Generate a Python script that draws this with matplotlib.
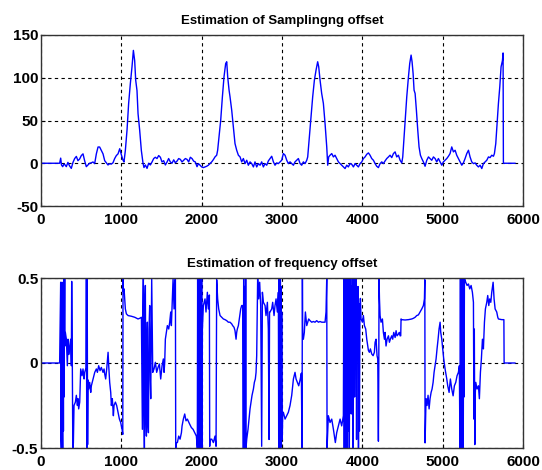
import matplotlib
matplotlib.use("Agg")
import matplotlib.pyplot as plt

plt.rcParams['font.family'] = ['Liberation Sans', 'DejaVu Sans']
plt.rcParams['axes.unicode_minus'] = False

# ---- Top: Estimation of sampling offset ----
samp_x = [0, 232, 245, 255, 270, 285, 300, 315, 335, 355, 377, 398, 419, 440, 460, 481, 502, 523, 543, 564,
          585, 605, 626, 647, 668, 689, 710, 730, 751, 772, 793, 813, 834, 855, 875, 896, 917, 938, 959, 980,
          1000, 1021, 1033, 1050, 1071, 1091, 1112, 1133, 1150, 1166, 1179, 1195, 1208, 1228, 1249, 1270, 1282,
          1299, 1320, 1340, 1361, 1382, 1403, 1423, 1444, 1465, 1486, 1506, 1527, 1548, 1569, 1589, 1610, 1631,
          1652, 1672, 1693, 1714, 1735, 1755, 1776, 1797, 1818, 1838, 1859, 1880, 1900, 1921, 1942,
          1959, 1980, 2000, 2021, 2042, 2063, 2083, 2104, 2125, 2146, 2166, 2187, 2199, 2216, 2237, 2258, 2278,
          2299, 2312, 2324, 2341, 2353, 2374, 2395, 2415, 2436, 2457, 2478, 2498, 2519, 2540, 2561, 2581, 2602,
          2623, 2644, 2664, 2685, 2706, 2727, 2747, 2768, 2789, 2810, 2830, 2851, 2872, 2893, 2913, 2934, 2955,
          2976, 2996, 3017, 3038, 3059, 3079, 3100, 3121, 3142, 3162, 3183, 3204, 3225, 3245, 3266, 3287, 3308,
          3320, 3341, 3361, 3382, 3403, 3424, 3444, 3457, 3474, 3494, 3515, 3536, 3557, 3569, 3581, 3598, 3619,
          3640, 3660, 3681, 3702, 3723, 3743, 3764, 3785, 3806, 3826, 3847,
          3868, 3889, 3910, 3930, 3951, 3972, 3993, 4013, 4034, 4055, 4076, 4096, 4117, 4138, 4159, 4179, 4200,
          4221, 4242, 4262, 4283, 4304, 4325, 4345, 4366, 4387, 4408, 4428, 4449, 4470, 4491, 4503, 4520, 4536,
          4553, 4574, 4590, 4607, 4619, 4632, 4644, 4657, 4673, 4690, 4706, 4723, 4740, 4760, 4781, 4802, 4823,
          4843, 4864, 4885, 4906, 4926, 4947, 4968, 4989, 5009, 5030, 5051, 5072, 5092, 5113, 5134, 5155, 5175,
          5196, 5217, 5238, 5258, 5279, 5300, 5321, 5341, 5362, 5383, 5404, 5424, 5445, 5466, 5487, 5507, 5528,
          5549, 5570, 5590, 5611, 5632, 5644, 5661, 5677, 5694, 5711, 5727, 5744, 5752, 5756, 5900]
samp_y = [0, 0, 6, -2, -4, -1, -2, -4, 1, -3, -6, 1, 5.5, 8, 3, 5, 9, 11, 3, -4,
          -2, 0, 0.5, 1.5, -0.5, 11, 19, 19, 15, 11, 3, 0.5, -2, -0.5, -1, 0.5, 5.5, 9, 11, 17,
          10, 3.5, 1.5, 15, 39, 70, 93, 113, 132, 120, 97, 85, 58, 39, 15, 0, -5,
          -2, -6, 0, -2, 1.5, 5.5, 7, 5.5, 9, 7, 1.5, 3, -2, 1.5, 5.5, 1.5, 0,
          4, 0.5, 2.5, 5.5, 4.5, 1.5, 3.5, 5.5, 4.5, 1.5, 7, 5.5, 2.5, 1.5, -4,
          -0.4, -2.3, -4.3, -5.1, -4.3, -3.5, -2.3, -0.4, 1.6, 4.3, 7.4, 9.4, 15.2, 30.8, 50.4, 77.7, 101,
          116.7, 118.7, 101, 85.5, 77.7, 62, 42.5, 23, 15.2, 9.4, 7.4, 1.6, 5.5, -0.4, 3.5, -2.3, 1.6,
          -0.4, -4.3, 1.6, -4.3, -0.4, -2.3, 1.6, -4.3, -0.4, -2.3, 2.7, 5.5, 8.2, 1.6, -2.3, 0.4, -0.4,
          1.6, 3.5, 11.3, 9.4, 3.5, -0.4, 1.6, -0.4, -2.3, 1.6, 3.5, 5.5, -0.4, -2.3, 1.6, -0.4, 3.5,
          7.4, 30.8, 54.3, 77.7, 97, 109, 118.7, 112.8, 97, 81.6, 70, 46.4, 19.1, -2.3, 7.4, 9.4, 11.3,
          7.4, 9.4, 5.5, 1.6, -0.4, -2.3, -4.3, -6.2, -2.3, -4.3, -0.4,
          -1.2, -4.3, -0.4, -2.3, -4.3, -0.4, 1.6, 5.5, 7.4, 10.5, 12.1, 9.4, 5.5, 3.5, -0.4, -3.5, -5.1,
          -0.4, 1.6, -0.4, 2.7, 5.5, 7.4, 9.4, 6.6, 11.3, 13.3, 7.4, 9.4, 3.5, 0.4, 7.4, 30.8, 54.3,
          77.7, 101, 116.7, 126.5, 118.7, 105, 85.5, 81.6, 62, 38.6, 19.1, 9.4, 5.5, 1.6, -3.5, 3.5, 7.4,
          5.5, 3.5, 7.4, 5.5, 1.6, 5.5, 1.6, -2.3, 1.6, 3.5, 5.5, 8.2, 11.3, 19.1, 13.3, 15.2, 9.4,
          5.5, 1.6, -2.3, 0.4, 5.5, 11.3, 15.2, 7.4, 1.6, -0.4, 0.4, -2.3, -4.3, -2.3, -6.2, -0.4, 1.6,
          3.5, 7.4, 6.6, 9.4, 8.2, 11.3, 23, 46.4, 69.9, 89.4, 112.8, 120, 129, 0, 0]

# ---- Bottom: Estimation of frequency offset ----
freq_x = [0, 232, 245, 249, 253, 258, 262, 266, 270, 274, 279, 283, 287, 291, 295, 299, 303, 316, 328, 336, 345,
          357, 370, 378, 382, 390, 396,
          403, 411, 428, 440, 453, 461, 469, 482, 494, 511, 523, 536, 544, 560, 565, 570, 575, 580, 586, 594,
          606, 619, 627, 648, 669, 689, 702, 718, 735, 751, 772, 785, 793, 805, 818, 835, 843, 855, 868, 876,
          888, 901, 909, 926, 942, 959, 976, 992, 1009, 1018, 1021, 1026, 1034, 1050, 1063, 1084, 1125, 1167,
          1208, 1229, 1250, 1262, 1268, 1274, 1280, 1287, 1293, 1299, 1305, 1312, 1318, 1324, 1330, 1337, 1345,
          1353, 1360, 1366, 1372, 1378, 1391, 1407, 1424, 1440,
          1457, 1474, 1490, 1507, 1523, 1532, 1540, 1548, 1561, 1573, 1590, 1602, 1615, 1623, 1635, 1644, 1656,
          1664, 1673, 1677, 1685, 1698, 1714, 1731, 1748, 1756, 1772, 1789, 1805, 1822, 1851, 1872, 1893, 1914,
          1934, 1946, 1950, 1955, 1960, 1965, 1970, 1975, 1980, 1985, 1990, 1995, 2000, 2004, 2009, 2021, 2042,
          2054, 2071, 2083, 2096, 2100, 2104, 2125, 2146, 2166, 2179, 2187, 2199, 2212, 2229, 2249, 2270, 2291,
          2312, 2332, 2353, 2374, 2386, 2403, 2415, 2428, 2436, 2444, 2457, 2469, 2486, 2498, 2511, 2519, 2523,
          2527, 2532, 2536, 2540, 2544, 2548, 2552, 2561, 2577, 2590, 2602, 2614, 2627, 2644, 2656, 2668, 2677,
          2685, 2697, 2710, 2722, 2735, 2747, 2756, 2768, 2789, 2801, 2818, 2830, 2839, 2845, 2851, 2872, 2884,
          2901, 2913, 2926, 2942, 2955, 2959, 2963, 2967, 2971, 2976, 2980, 2984, 2988, 2992, 2996, 3003, 3009,
          3017, 3038, 3059, 3079, 3100, 3121, 3142, 3162, 3175, 3191, 3208, 3225, 3241, 3249, 3254, 3258, 3266,
          3278, 3291, 3308, 3320, 3332, 3349, 3370, 3391, 3411, 3432, 3453, 3474, 3494, 3515, 3536, 3548, 3557,
          3561, 3577, 3598, 3619, 3640, 3652, 3664, 3681, 3702, 3723, 3743, 3764, 3770, 3775, 3781, 3786, 3791,
          3797, 3802, 3808, 3814, 3820, 3826, 3832, 3838, 3844, 3850, 3856, 3862, 3868, 3874, 3880, 3886, 3892,
          3898, 3904, 3910, 3916, 3922, 3928, 3934, 3940, 3946, 3952, 3958, 3964, 3970, 3976, 3984, 4001, 4013,
          4026, 4042, 4055, 4067, 4076, 4088, 4100, 4117, 4134, 4150, 4159, 4171, 4183, 4192, 4200, 4205, 4208,
          4213, 4221, 4233, 4250, 4262, 4275, 4283, 4295, 4308, 4325, 4337, 4349, 4366, 4378, 4391, 4408, 4420,
          4432, 4449, 4461, 4470, 4478, 4482, 4491, 4532, 4574, 4615, 4636, 4657, 4677, 4698, 4719, 4740, 4760,
          4773, 4778, 4781, 4793, 4806, 4818, 4831, 4843, 4856, 4868, 4881, 4893, 4906, 4918, 4930, 4943, 4955,
          4968, 4976, 4989, 5001, 5013, 5030, 5051, 5063, 5080, 5096, 5113, 5130, 5146, 5163, 5179, 5196, 5208,
          5215, 5221, 5226, 5231, 5236, 5241, 5246, 5251, 5256, 5262, 5266, 5271, 5287, 5304, 5321, 5337, 5354,
          5370, 5383, 5389, 5394, 5400, 5404, 5412, 5428, 5445, 5457, 5470, 5482, 5495, 5507, 5520, 5532, 5549,
          5561, 5574, 5586, 5599, 5611, 5628, 5640, 5653, 5673, 5686, 5694, 5736, 5762, 5765, 5900]
freq_y = [0, 0, 0.475, -0.45, -0.5, 0.3, 0.475, -0.3, -0.5, 0.45, -0.4, 0.5, -0.2, 0.24, 0.495, 0.1, 0.18, 0.14, -0.016, 0.14, 0.05,
          0.1, 0.14, -0.016, 0.48, -0.016, -0.5,
          -0.47, -0.25, -0.23, -0.19, -0.25, -0.21, -0.27, -0.23, -0.035, -0.075, -0.035, -0.094, -0.055, -0.03, 0.5, -0.5, 0.5, -0.48, -0.1, -0.153,
          -0.114, -0.173, -0.134, -0.094, -0.055, -0.035, -0.055, -0.016, -0.045, -0.026, -0.055, -0.035, -0.065, -0.094, -0.035, 0.063, -0.016, -0.114, -0.173, -0.25,
          -0.21, -0.31, -0.25, -0.23, -0.25, -0.29, -0.33, -0.35, -0.39, -0.42, 0.5, 0.42, 0.436, 0.318, 0.289, 0.279, 0.275, 0.269,
          0.259, 0.263, 0.269, -0.39, 0.3, 0.495, -0.2, -0.5, 0.35, 0.456, -0.3, -0.43, 0.1, 0.24, -0.35, -0.41, 0.2,
          0.338, -0.1, -0.21, 0.15, 0.495, -0.055, -0.035, 0.004, -0.055,
          -0.026, -0.006, -0.094, -0.016, 0.024, -0.055, 0.004, 0.14, 0.18, 0.22, 0.2, 0.24, 0.3, 0.22, 0.38, 0.495, 0.318,
          0.475, 0.5, -0.5, -0.47, -0.468, -0.43, -0.448, -0.41, -0.37, -0.33, -0.30, -0.34, -0.33, -0.36, -0.38, -0.39, -0.41,
          -0.43, -0.5, 0.5, -0.3, 0.5, -0.5, 0.3, -0.48, 0.5, -0.5, 0.45, -0.4, 0.5, -0.5, 0.2, 0.338, 0.377,
          0.3, 0.416, 0.318, 0.4, -0.49, -0.45, -0.448, -0.468, -0.43, -0.49, 0.49, 0.377, 0.318, 0.279, 0.269, 0.259, 0.255,
          0.249, 0.24, 0.24, 0.23, 0.22, 0.21, 0.19, 0.14, 0.18, 0.2, 0.22, 0.259, 0.318, 0.338, 0.338, -0.5, 0.5,
          -0.5, 0.45, -0.5, 0.4, -0.48, 0.5, -0.5, -0.448, -0.39, -0.33, -0.27, -0.23, -0.19, -0.153, -0.114, -0.094, -0.055,
          0.043, 0.5, 0.377, 0.475, 0.338, -0.49, 0.416, 0.357, 0.338, 0.279, 0.357, 0.2, -0.45, 0.3, 0.3, 0.318, 0.357,
          0.279, 0.338, 0.377, 0.3, 0.416, -0.5, 0.5, -0.5, 0.48, -0.5, 0.5, -0.5, 0.45, -0.49, 0.3, -0.45, -0.29,
          -0.29, -0.33, -0.31, -0.29, -0.25, -0.19, -0.094, -0.055, -0.094, -0.114, -0.134, -0.1, -0.06, -0.5, 0.5, 0.14, 0.14,
          0.18, 0.3, 0.22, 0.24, 0.259, 0.249, 0.24, 0.244, 0.24, 0.249, 0.24, 0.244, 0.24, 0.24, 0.24, 0.3, 0.5,
          -0.5, -0.31, -0.35, -0.33, -0.39, -0.43, -0.468, -0.41, -0.37, -0.33, -0.37, -0.31, 0.5, -0.5, 0.45, -0.5, 0.5,
          -0.2, 0.5, -0.5, 0.3, 0.5, -0.4, 0.5, -0.5, 0.4, 0.2, 0.5, -0.3, 0.45, 0.1, 0.5, -0.5, 0.35,
          0.5, -0.2, 0.45, 0.2, 0.5, -0.45, 0.4, 0.3, 0.45, -0.5, 0.35, -0.4, 0.3, 0.38, 0.259, 0.24, 0.279,
          0.22, 0.2, 0.14, 0.1, 0.073, 0.063, 0.083, 0.053, 0.043, 0.063, 0.122, 0.14, 0.043, 0.024, -0.46, 0.0, 0.5,
          0.38, 0.279, 0.24, 0.259, 0.18, 0.14, 0.18, 0.1, 0.14, 0.16, 0.122, 0.14, 0.16, 0.14, 0.18, 0.15, 0.19,
          0.16, 0.17, 0.18, 0.16, 0.16, 0.259, 0.255, 0.253, 0.255, 0.259, 0.263, 0.269, 0.279, 0.283, 0.3, 0.318, 0.338,
          0.377, 0.49, -0.47, -0.21, -0.25, -0.19, -0.27, -0.21, -0.173, -0.153, -0.114, -0.055, -0.016, 0.024, 0.083, 0.14, 0.2,
          0.24, 0.18, 0.14, 0.083, 0.024, -0.035, -0.094, -0.134, -0.173, -0.094, -0.153, -0.193, -0.134, -0.114, -0.075, -0.055, -0.016,
          -0.5, 0.5, -0.48, 0.45, -0.5, 0.5, -0.3, 0.5, -0.5, 0.48, -0.2, 0.5, 0.475, 0.456, 0.465, 0.436, 0.456,
          0.416, 0.357, -0.33, 0.2, -0.48, -0.2, -0.114, -0.153, -0.134, -0.21, -0.055, 0.024, 0.14, 0.083, 0.24, 0.318, 0.357,
          0.397, 0.338, 0.377, 0.357, 0.416, 0.475, 0.377, 0.318, 0.3, 0.269, 0.259, 0.255, 0.255, 0.0, 0.0]

x_ticks = [0, 1000, 2000, 3000, 4000, 5000, 6000]
samp_ticks = [-50, 0, 50, 100, 150]
freq_ticks = [-0.5, 0, 0.5]
freq_ticklabels = ['-0.5', '0', '0.5']

W, H = 542, 470
fig = plt.figure(figsize=(W / 100, H / 100), dpi=100)
fig.patch.set_facecolor('white')

ax1 = fig.add_axes([41 / W, 1 - 206 / H, 482 / W, 171 / H])
ax2 = fig.add_axes([41 / W, 1 - 448 / H, 482 / W, 170 / H])

tick_font = dict(fontsize=11, fontweight='bold')
for ax in (ax1, ax2):
    ax.set_xlim(0, 6000)
    ax.set_xticks(x_ticks)
    ax.set_xticklabels([str(t) for t in x_ticks], **tick_font)
    ax.grid(True, color='black', linestyle=(0, (3, 3)), linewidth=0.8)
    ax.set_axisbelow(True)
    ax.tick_params(direction='in', length=3, width=0.8, pad=2, colors='black')
    ax.tick_params(axis='x', pad=5)
    for s in ax.spines.values():
        s.set_color('#333333')
        s.set_linewidth(1.0)

ax1.plot(samp_x, samp_y, color='#0000ff', linewidth=1.0)
ax1.set_ylim(-50, 150)
ax1.set_yticks(samp_ticks)
ax1.set_yticklabels([str(t) for t in samp_ticks], **tick_font)
ax1.set_title('Estimation of Samplingng offset', fontsize=9.5, fontweight='bold', pad=8)

ax2.plot(freq_x, freq_y, color='#0000ff', linewidth=1.0)
ax2.set_ylim(-0.5, 0.5)
ax2.set_yticks(freq_ticks)
ax2.set_yticklabels(freq_ticklabels, **tick_font)
ax2.set_title('Estimation of frequency offset', fontsize=9.5, fontweight='bold', pad=8)

fig.savefig('out.png', dpi=100)
